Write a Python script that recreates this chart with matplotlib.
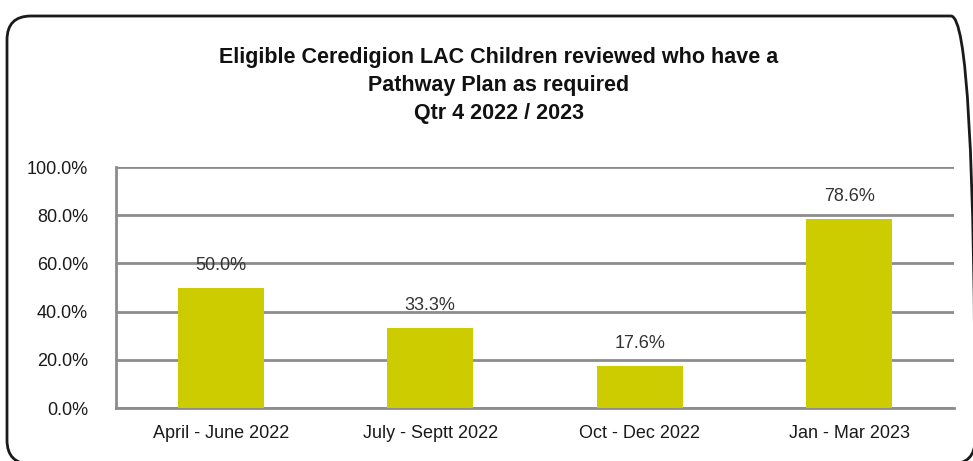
import matplotlib
matplotlib.use("Agg")
import matplotlib.pyplot as plt
from matplotlib.patches import FancyBboxPatch
from matplotlib.transforms import IdentityTransform

categories = ["April - June 2022", "July - Septt 2022", "Oct - Dec 2022", "Jan - Mar 2023"]
values = [50.0, 33.3, 17.6, 78.6]
yticks = [0, 20, 40, 60, 80, 100]
title_lines = ["Eligible Ceredigion LAC Children reviewed who have a",
               "Pathway Plan as required",
               "Qtr 4 2022 / 2023"]

plt.rcParams['font.family'] = ['Liberation Sans', 'DejaVu Sans']

W, H = 973, 461
fig = plt.figure(figsize=(W / 100, H / 100), dpi=100)
fig.patch.set_facecolor("white")

# rounded border (pixel coordinates, origin bottom-left)
border = FancyBboxPatch((7, -3), 975 - 7, (H - 16) + 3,
                        boxstyle="round,pad=0,rounding_size=24",
                        transform=IdentityTransform(), fill=False,
                        edgecolor="#1a1a1a", linewidth=2.0, clip_on=False)
fig.patches.append(border)

ax = fig.add_axes([116 / W, 1 - 408 / H, (954 - 116) / W, (408 - 167) / H])
x = range(len(categories))
bars = ax.bar(x, values, width=0.41, color="#CCCC00", zorder=3)
ax.set_xlim(-0.5, len(categories) - 0.5)
ax.set_ylim(0, 100)
ax.set_yticks(yticks)
ax.set_yticklabels([f"{v:.1f}%" for v in yticks], fontsize=13, color="#1a1a1a")
ax.set_xticks(list(x))
ax.set_xticklabels(categories, fontsize=13, color="#1a1a1a")
ax.tick_params(axis="both", length=0)
ax.tick_params(axis="y", pad=20)
ax.tick_params(axis="x", pad=12)
ax.grid(axis="y", color="#8c8c8c", linewidth=2, zorder=0)
for s in ["top", "right"]:
    ax.spines[s].set_visible(False)
ax.spines["left"].set_color("#8c8c8c")
ax.spines["left"].set_linewidth(2)
ax.spines["bottom"].set_color("#8c8c8c")
ax.spines["bottom"].set_linewidth(2)

for xi, v in zip(x, values):
    ax.annotate(f"{v:.1f}%", (xi, v), xytext=(0, 16), textcoords="offset points",
                ha="center", va="center", fontsize=13, color="#333333", zorder=4)

for i, line in enumerate(title_lines):
    fig.text(499 / W, 1 - (57 + 28 * i) / H, line, ha="center", va="center",
             fontsize=15.5, fontweight="bold", color="#111111")

fig.savefig("out.png", dpi=100, facecolor="white")
